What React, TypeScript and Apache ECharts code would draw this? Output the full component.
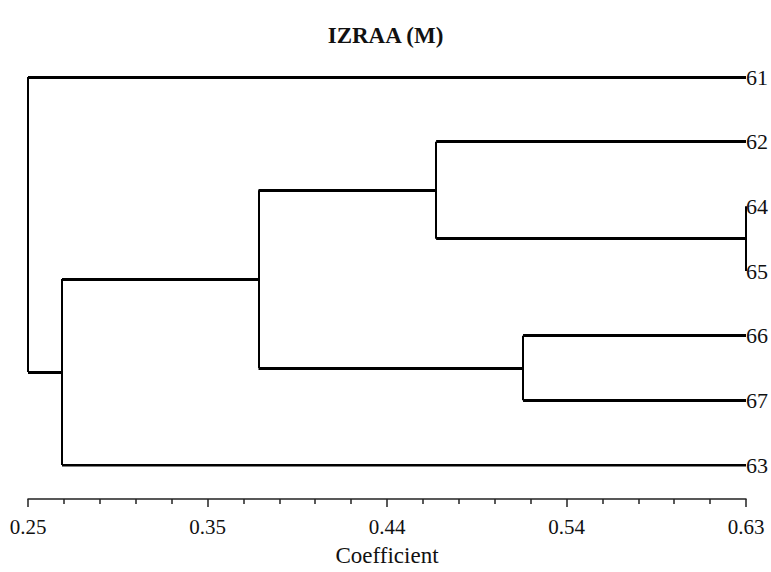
import React, { useEffect, useRef } from "react";
import * as echarts from "echarts";

// Leaves in display order (top to bottom)
const leafNames = ["61", "62", "64", "65", "66", "67", "63"];
const leafCoef = 0.63;
// Agglomeration steps: id, children, coefficient
const mergeIds = ["A", "B", "C", "D", "E", "F"];
const mergeChildren = [
  ["64", "65"],
  ["62", "A"],
  ["66", "67"],
  ["B", "C"],
  ["D", "63"],
  ["61", "E"],
];
const mergeCoef = [0.63, 0.466, 0.512, 0.372, 0.268, 0.25];
// Axis
const axisMin = 0.25;
const axisMax = 0.63;
const tickLabels = ["0.25", "0.35", "0.44", "0.54", "0.63"];

const FONT = "Liberation Serif";

function buildSegments() {
  const pos: Record<string, [number, number]> = {};
  leafNames.forEach((n, i) => (pos[n] = [leafCoef, i]));
  const horiz: any[] = [];
  const vert: any[] = [];
  mergeIds.forEach((id, k) => {
    const [a, b] = mergeChildren[k];
    const x = mergeCoef[k];
    const pa = pos[a];
    const pb = pos[b];
    [pa, pb].forEach((p) => {
      if (Math.abs(p[0] - x) > 1e-9) horiz.push({ coords: [[p[0], p[1]], [x, p[1]]] });
    });
    vert.push({ coords: [[x, pa[1]], [x, pb[1]]] });
    pos[id] = [x, (pa[1] + pb[1]) / 2];
  });
  return { horiz, vert };
}

export default function App() {
  const ref = useRef<HTMLDivElement>(null);
  useEffect(() => {
    if (!ref.current) return;
    const chart = echarts.init(ref.current, undefined, { renderer: "svg" });
    const { horiz, vert } = buildSegments();
    chart.setOption({
      animation: false,
      backgroundColor: "#ffffff",
      textStyle: { fontFamily: FONT },
      title: {
        text: "IZRAA (M)",
        left: "center",
        top: 19,
        textStyle: { fontFamily: FONT, fontWeight: "bold", fontSize: 23, color: "#111" },
      },
      grid: { left: 28, right: 22, top: 77, bottom: 106 },
      xAxis: [
        {
          type: "value",
          min: axisMin,
          max: axisMax,
          show: false,
        },
        {
          type: "value",
          min: 0,
          max: 20,
          interval: 5,
          position: "bottom",
          offset: 34,
          name: "Coefficient",
          nameLocation: "middle",
          nameGap: 45,
          nameTextStyle: { fontFamily: FONT, fontSize: 23, color: "#111" },
          axisLine: { show: true, lineStyle: { color: "#222", width: 1.5 } },
          axisTick: { show: true, length: 8, lineStyle: { color: "#222", width: 1.5 } },
          minorTick: { show: true, splitNumber: 5, length: 5, lineStyle: { color: "#222", width: 1.5 } },
          splitLine: { show: false },
          axisLabel: {
            margin: 17,
            fontFamily: FONT,
            fontSize: 21,
            color: "#111",
            formatter: (v: number) => tickLabels[Math.round(v / 5)] ?? "",
          },
        },
      ],
      yAxis: {
        type: "value",
        min: 0,
        max: leafNames.length - 1,
        interval: 1,
        inverse: true,
        position: "right",
        axisLine: { show: false },
        axisTick: { show: false },
        splitLine: { show: false },
        axisLabel: {
          margin: 0,
          fontFamily: FONT,
          fontSize: 22,
          color: "#111",
          formatter: (v: number) => leafNames[Math.round(v)] ?? "",
        },
      },
      series: [
        {
          type: "lines",
          coordinateSystem: "cartesian2d",
          xAxisIndex: 0,
          yAxisIndex: 0,
          data: horiz,
          lineStyle: { color: "#000", width: 3, opacity: 1 },
          symbol: "none",
          silent: true,
        },
        {
          type: "lines",
          coordinateSystem: "cartesian2d",
          xAxisIndex: 0,
          yAxisIndex: 0,
          data: vert,
          lineStyle: { color: "#000", width: 2, opacity: 1 },
          symbol: "none",
          silent: true,
        },
      ],
    });
    return () => chart.dispose();
  }, []);
  return <div ref={ref} style={{ width: 771, height: 572, position: "absolute", left: 0, top: 0 }} />;
}
